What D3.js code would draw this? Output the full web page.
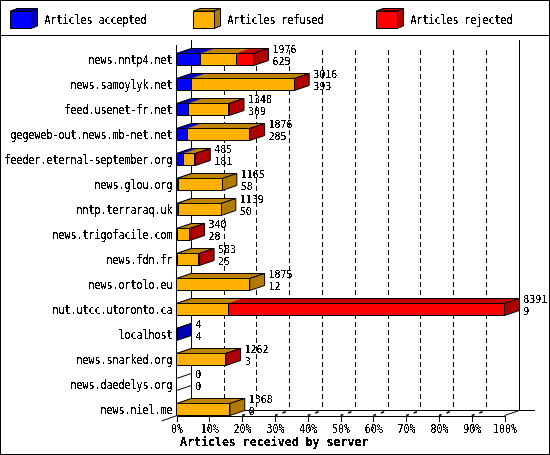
<!DOCTYPE html>
<html><head><meta charset="utf-8">
<script src="https://cdn.jsdelivr.net/npm/d3@7"></script>
<style>
html,body{margin:0;padding:0;background:#fff}
svg{display:block}
text{font-family:"DejaVu Sans Mono",monospace;font-size:12px;fill:#000}
text.val{font-size:10.2px}
</style></head><body><svg id="c" width="550" height="455"></svg>
<script>
const servers=["news.nntp4.net","news.samoylyk.net","feed.usenet-fr.net","gegeweb-out.news.mb-net.net","feeder.eternal-september.org","news.glou.org","nntp.terraraq.uk","news.trigofacile.com","news.fdn.fr","news.ortolo.eu","nut.utcc.utoronto.ca","localhost","news.snarked.org","news.daedelys.org","news.niel.me"];
const accepted=[625,393,309,285,181,58,50,28,25,12,9,4,3,0,0];
const refused=[902,2620,1025,1585,289,1107,1089,305,550,1863,1316,0,1254,0,1368];
const rejected=[449,3,14,6,15,0,0,7,8,0,7066,0,5,0,0];
const totals=[1976,3016,1348,1876,485,1165,1139,340,583,1875,8391,4,1262,0,1368];
const seriesNames=["Articles accepted","Articles refused","Articles rejected"];
const seriesFront=["#0000ff","#ffb000","#ff0000"];
const seriesTop=["#0000c0","#c08400","#c00000"];
const seriesSide=["#0000b0","#b07b00","#b00000"];
const pctTicks=[0,10,20,30,40,50,60,70,80,90,100];
const maxTotal=8391;

const svg=d3.select("#c");
const defs=svg.append("defs");
const f=defs.append("filter").attr("id","mono").attr("x",0).attr("y",0).attr("width",1).attr("height",1)
  .attr("color-interpolation-filters","sRGB");
f.append("feComponentTransfer").append("feFuncA").attr("type","discrete").attr("tableValues","0 0 1 1 1");

const dx=14.8,dy=5;
const x=d3.scaleLinear().domain([0,100]).range([176.5,504.5]);
const y=d3.scaleBand().domain(servers).range([40.5,415.5]);
const vx=v=>x(v/maxTotal*100);
const floorY=415.5,backY=410.5;
const crisp=s=>s.attr("shape-rendering","crispEdges");
const fit=sel=>sel.each(function(){const t=d3.select(this);t.attr("textLength",t.text().length*6).attr("lengthAdjust","spacingAndGlyphs");});

// frame
crisp(svg.append("rect").attr("x",.5).attr("y",.5).attr("width",549).attr("height",454).attr("fill","#fff").attr("stroke","#000"));
crisp(svg.append("line").attr("x1",0).attr("x2",550).attr("y1",35.5).attr("y2",35.5).attr("stroke","#000"));

// legend
const legendX=[10.5,193.5,376.5];
seriesNames.forEach((n,i)=>{
  const g=svg.append("g");
  const l=legendX[i],r=l+20.5,t=11,b=28.5,d=6.5,u=2.5;
  g.append("path").attr("d",`M${l},${t}L${l+d},${t-u}L${r+d},${t-u}L${r},${t}Z`).attr("fill",seriesTop[i]).attr("stroke","#000");
  g.append("path").attr("d",`M${r},${t}L${r+d},${t-u}L${r+d},${b-u}L${r},${b}Z`).attr("fill",seriesSide[i]).attr("stroke","#000");
  crisp(g.append("rect").attr("x",l).attr("y",t).attr("width",r-l).attr("height",b-t).attr("fill",seriesFront[i]).attr("stroke","#000"));
});
const legendText=svg.append("g").attr("filter","url(#mono)");
seriesNames.forEach((n,i)=>legendText.append("text").attr("x",legendX[i]+34).attr("y",24).text(n).call(fit));

// walls and floor
const vl=(x0,y0,y1)=>crisp(svg.append("line").attr("x1",x0).attr("x2",x0).attr("y1",y0).attr("y2",y1).attr("stroke","#000"));
vl(x(0)+dx+.3,40,backY);
vl(x(100)+dx+.3,40,backY);
vl(x(0),45,floorY);
crisp(svg.append("line").attr("x1",x(0)+dx).attr("x2",535).attr("y1",backY).attr("y2",backY).attr("stroke","#000"));
svg.append("line").attr("x1",x(0)-15).attr("y1",floorY+5.5).attr("x2",x(0)+dx).attr("y2",backY).attr("stroke","#000");
svg.append("line").attr("x1",x(100)).attr("y1",floorY).attr("x2",x(100)+dx).attr("y2",backY).attr("stroke","#000");

// grid
pctTicks.slice(1,-1).forEach(p=>{
  crisp(svg.append("line").attr("x1",x(p)+dx).attr("x2",x(p)+dx).attr("y1",50).attr("y2",backY)
    .attr("stroke","#000").attr("stroke-dasharray","4.5 3.5"));
  svg.append("line").attr("x1",x(p)).attr("y1",floorY).attr("x2",x(p)+dx).attr("y2",backY)
    .attr("stroke","#000").attr("stroke-width",1.5).attr("stroke-dasharray","3 5 3.5 4");
});

// bars
servers.forEach((s,i)=>{
  const top=y(s)+13,bot=y(s)+25;
  const g=svg.append("g");
  const vals=[accepted[i],refused[i],rejected[i]];
  const total=vals[0]+vals[1]+vals[2];
  if(total===0){
    [top,bot].forEach(yy=>g.append("line").attr("x1",x(0)).attr("y1",yy).attr("x2",x(0)+dx).attr("y2",yy-dy).attr("stroke","#000"));
  }else{
    const end=vx(total);
    let cum=0,last=0;
    vals.forEach((v,k)=>{
      if(v<=0)return;
      const a=vx(cum),b=vx(cum+v);cum+=v;last=k;
      g.append("path").attr("d",`M${a},${top}L${a+dx},${top-dy}L${b+dx},${top-dy}L${b},${top}Z`).attr("fill",seriesTop[k]).attr("stroke",seriesTop[k]).attr("stroke-width",.5);
    });
    g.append("path").attr("d",`M${x(0)},${top}L${x(0)+dx},${top-dy}L${end+dx},${top-dy}L${end},${top}`).attr("fill","none").attr("stroke","#000");
    g.append("path").attr("d",`M${end},${top}L${end+dx},${top-dy}L${end+dx},${bot-dy}L${end},${bot}Z`).attr("fill",seriesSide[last]).attr("stroke","#000");
    cum=0;
    vals.forEach((v,k)=>{
      if(v<=0)return;
      const a=vx(cum),b=vx(cum+v);cum+=v;
      crisp(g.append("rect").attr("x",a).attr("y",top).attr("width",b-a).attr("height",bot-top).attr("fill",seriesFront[k]).attr("stroke","#000"));
    });
  }
});

// axes
const xAxis=svg.append("g").attr("transform",`translate(0,${floorY})`)
  .call(d3.axisBottom(x).tickValues(pctTicks).tickFormat(d=>d+"%").tickSize(6).tickPadding(3));
xAxis.selectAll("line").attr("stroke","#000").attr("shape-rendering","crispEdges");
xAxis.select(".domain").attr("stroke","#000").attr("shape-rendering","crispEdges").attr("d",`M${x(0)},.5H${x(100)}`);
xAxis.selectAll("text").attr("filter","url(#mono)").call(fit);
xAxis.attr("font-family",null).attr("font-size",null);

const yAxis=svg.append("g").attr("transform",`translate(172.5,0)`)
  .call(d3.axisLeft(y).tickSize(0).tickPadding(0));
yAxis.select(".domain").remove();
yAxis.attr("font-family",null).attr("font-size",null);
yAxis.selectAll("text").attr("dy",null).attr("y",0)
  .attr("transform","translate(0,10.5)").attr("filter","url(#mono)").call(fit);

// value labels
const lab=svg.append("g").attr("filter","url(#mono)");
servers.forEach((s,i)=>{
  const lx=vx(totals[i])+dx+4;
  const top=y(s)+12.5;
  lab.append("text").attr("class","val").attr("x",lx).attr("y",top).text(totals[i]).call(fit);
  lab.append("text").attr("class","val").attr("x",lx).attr("y",top+12).text(accepted[i]).call(fit);
});

svg.append("text").attr("x",180).attr("y",446).attr("font-weight","bold").style("font-size","11.6px")
  .attr("filter","url(#mono)").text("Articles received by server");
</script></body></html>
